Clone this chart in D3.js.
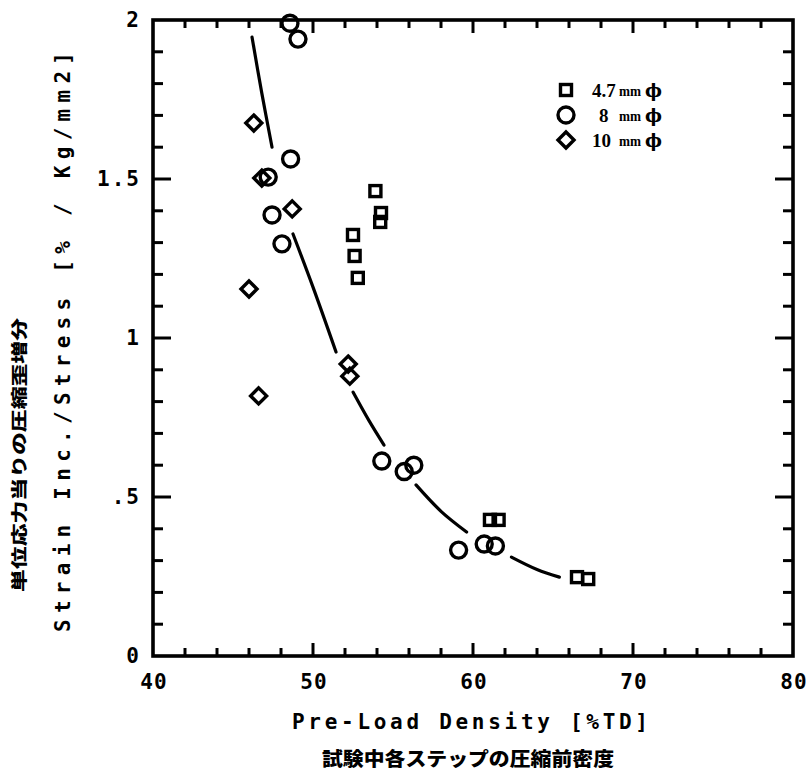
<!DOCTYPE html>
<html>
<head>
<meta charset="utf-8">
<script src="https://cdn.jsdelivr.net/npm/d3@7"></script>
<style>
  html, body { margin: 0; padding: 0; background: #fff; }
  svg { display: block; }
</style>
</head>
<body>
<svg id="chart" width="811" height="775"></svg>
<script>
// Measured specimens: [pre-load density %TD, strain increment per stress]
const series47 = [[53.9,1.462],[54.25,1.393],[54.2,1.365],[52.5,1.324],[52.6,1.258],[52.8,1.189],
                  [61.06,0.428],[61.6,0.428],[66.5,0.248],[67.2,0.242]];
const series8  = [[48.56,1.99],[49.06,1.94],[48.6,1.563],[47.2,1.506],[47.44,1.387],[48.06,1.296],
                  [54.3,0.613],[55.7,0.58],[56.3,0.60],[59.1,0.333],[60.7,0.352],[61.4,0.346]];
const series10 = [[46.3,1.676],[46.8,1.503],[48.7,1.406],[46.0,1.154],[46.6,0.818],[52.2,0.918],[52.3,0.88]];

// Fitted trend curve, pen-lifted into pieces around the markers
const trendPieces = [
  [[46.19,1.946],[46.8,1.77],[47.44,1.60]],
  [[48.75,1.327],[50.0,1.16],[51.44,0.956]],
  [[52.5,0.83],[53.5,0.74],[54.44,0.663]],
  [[56.44,0.538],[58.0,0.455],[59.6,0.39]],
  [[62.4,0.311],[64.0,0.272],[65.4,0.248]]
];

const xTicks = [40,50,60,70,80];
const xTickLabels = ["40","50","60","70","80"];
const yTicks = [0,0.5,1,1.5,2];
const yTickLabels = ["0",".5","1","1.5","2"];

const legendItems = [
  {shape:"square",  num:"4.7"},
  {shape:"circle",  num:"8"},
  {shape:"diamond", num:"10"}
];

const svg = d3.select("#chart");
const L = 153, R = 793, T = 20, B = 656;
const x = d3.scaleLinear().domain([40,80]).range([L,R]);
const y = d3.scaleLinear().domain([0,2]).range([B,T]);

const ink = "#000";
const monoFont = "'DejaVu Sans Mono', monospace";
const cjkFont = "'Noto Sans CJK JP', sans-serif";

// Frame
svg.append("rect").attr("x",L).attr("y",T).attr("width",R-L).attr("height",B-T)
  .attr("fill","none").attr("stroke",ink).attr("stroke-width",3.6);

// Inward ticks on all four sides: every 2 %TD and every 0.1, longer at the labelled values
const xTickVals = d3.range(42, 80, 2);
const yTickVals = d3.range(1, 20).map(d => d / 10);
const tickLayer = svg.append("g");

tickLayer.selectAll("line.xb").data(xTickVals).join("line").attr("class","xb")
  .attr("x1", d => x(d)).attr("x2", d => x(d))
  .attr("y1", B).attr("y2", d => B - (d % 10 === 0 ? 13 : 8))
  .attr("stroke", ink).attr("stroke-width", 3);
tickLayer.selectAll("line.xt").data(xTickVals).join("line").attr("class","xt")
  .attr("x1", d => x(d)).attr("x2", d => x(d))
  .attr("y1", T).attr("y2", d => T + (d % 10 === 0 ? 13 : 8))
  .attr("stroke", ink).attr("stroke-width", 3);
const isMajorY = d => Math.round(d * 10) % 5 === 0;
tickLayer.selectAll("line.yl").data(yTickVals).join("line").attr("class","yl")
  .attr("y1", d => y(d)).attr("y2", d => y(d))
  .attr("x1", L).attr("x2", d => L + (isMajorY(d) ? 18 : 10))
  .attr("stroke", ink).attr("stroke-width", 3);
tickLayer.selectAll("line.yr").data(yTickVals).join("line").attr("class","yr")
  .attr("y1", d => y(d)).attr("y2", d => y(d))
  .attr("x1", R).attr("x2", d => R - (isMajorY(d) ? 18 : 10))
  .attr("stroke", ink).attr("stroke-width", 3);

// Tick labels
svg.append("g").selectAll("text").data(xTicks).join("text")
  .attr("x", d => x(d) + 1).attr("y", B + 33)
  .attr("text-anchor","middle")
  .attr("font-family",monoFont).attr("font-weight","bold").attr("font-size",21)
  .attr("letter-spacing",1)
  .text((d,i) => xTickLabels[i]);

svg.append("g").selectAll("text").data(yTicks).join("text")
  .attr("x", 141).attr("y", d => y(d) + 7)
  .attr("text-anchor","end")
  .attr("font-family",monoFont).attr("font-weight","bold").attr("font-size",21)
  .attr("letter-spacing",2)
  .text((d,i) => yTickLabels[i]);

// Axis titles
svg.append("text").attr("x",292).attr("y",729)
  .attr("font-family",monoFont).attr("font-weight","bold").attr("font-size",21)
  .attr("textLength",356).attr("lengthAdjust","spacing")
  .text("Pre-Load Density [%TD]");
svg.append("text").attr("x",322).attr("y",766)
  .attr("font-family",cjkFont).attr("font-weight","900").attr("font-size",19)
  .attr("textLength",292).attr("lengthAdjust","spacingAndGlyphs")
  .text("試験中各ステップの圧縮前密度");

svg.append("text").attr("transform","translate(70,632) rotate(-90)")
  .attr("font-family",monoFont).attr("font-weight","bold").attr("font-size",21)
  .attr("textLength",580).attr("lengthAdjust","spacing")
  .text("Strain Inc./Stress [% / Kg/mm2]");
svg.append("text").attr("transform","translate(25,592) rotate(-90)")
  .attr("font-family",cjkFont).attr("font-weight","900").attr("font-size",16)
  .attr("textLength",274).attr("lengthAdjust","spacingAndGlyphs")
  .text("単位応力当りの圧縮歪増分");

// Trend curve
const line = d3.line().x(d => x(d[0])).y(d => y(d[1])).curve(d3.curveCatmullRom);
svg.append("g").selectAll("path").data(trendPieces).join("path")
  .attr("d", line).attr("fill","none").attr("stroke",ink)
  .attr("stroke-width",3.2).attr("stroke-linecap","round");

// Marker shapes
function drawMarker(sel, shape) {
  if (shape === "square") {
    sel.append("rect").attr("x",-5.5).attr("y",-5.5).attr("width",11).attr("height",11);
  } else if (shape === "circle") {
    sel.append("circle").attr("r",8);
  } else {
    sel.append("path").attr("d","M0,-8L8,0L0,8L-8,0Z");
  }
}
function plotSeries(data, shape) {
  const grp = svg.append("g").attr("fill","none").attr("stroke",ink).attr("stroke-width",3.4);
  data.forEach(d => {
    const m = grp.append("g").attr("transform",`translate(${x(d[0])},${y(d[1])})`);
    drawMarker(m, shape);
  });
}
plotSeries(series47, "square");
plotSeries(series8, "circle");
plotSeries(series10, "diamond");

// Legend
const lg = svg.append("g");
legendItems.forEach((it,i) => {
  const cy = 90 + i*25;
  const m = lg.append("g").attr("transform",`translate(566,${cy})`)
    .attr("fill","none").attr("stroke",ink).attr("stroke-width",3.4);
  drawMarker(m, it.shape);
  const numX = it.num === "8" ? 599 : 592;
  lg.append("text").attr("x",numX).attr("y",cy+7)
    .attr("font-family","'Liberation Serif', serif").attr("font-weight","bold").attr("font-size",19)
    .attr("fill",ink)
    .text(it.num);
  lg.append("text").attr("x",619).attr("y",cy+6)
    .attr("font-family","'Liberation Serif', serif").attr("font-weight","bold").attr("font-size",14)
    .attr("fill",ink).attr("textLength",22).attr("lengthAdjust","spacingAndGlyphs")
    .text("mm");
  lg.append("text").attr("x",645).attr("y",cy+7)
    .attr("font-family","'DejaVu Serif', serif").attr("font-weight","bold").attr("font-size",18)
    .attr("fill",ink)
    .text("ϕ");
});
</script>
</body>
</html>
